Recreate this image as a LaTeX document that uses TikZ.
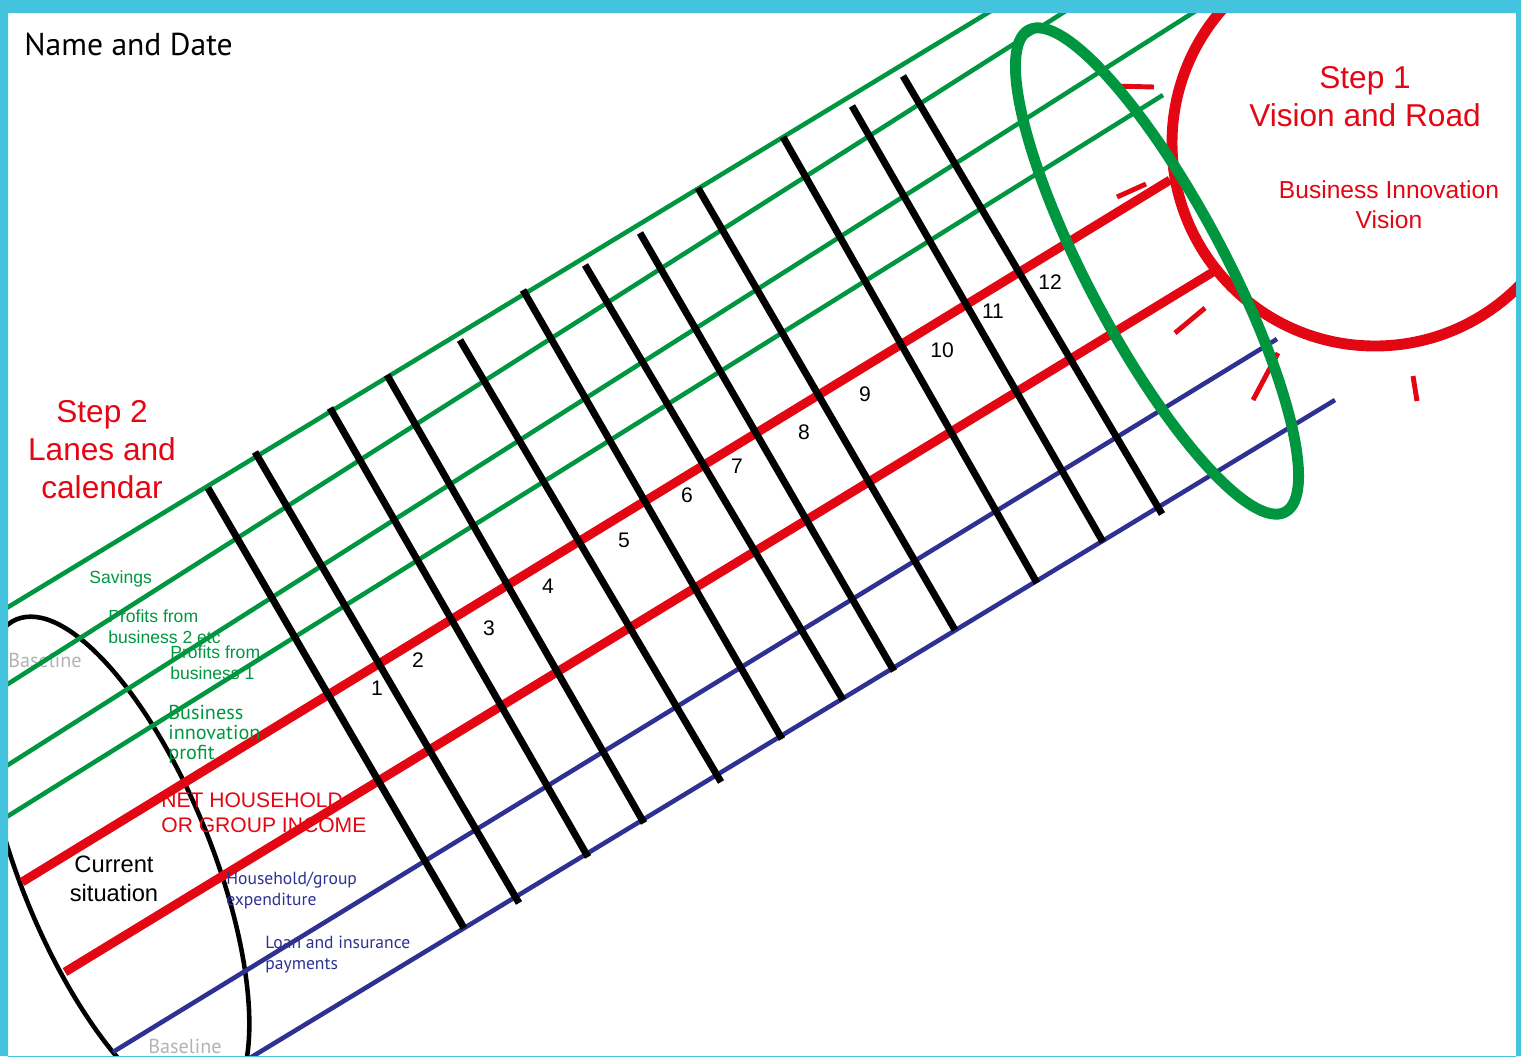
\documentclass[tikz,border=0pt]{standalone}
\usepackage{fontspec}
\setmainfont{Liberation Sans}
\newfontfamily\myriad{PT Sans}
\usepackage{xcolor}
\definecolor{laneGreen}{HTML}{009640}
\definecolor{laneRed}{HTML}{E30613}
\definecolor{laneBlue}{HTML}{2E3192}
\definecolor{frameCyan}{HTML}{44C3DF}
\definecolor{baseGray}{HTML}{B3B3B3}

\begin{document}
\begin{tikzpicture}[x=0.02cm, y=-0.02cm,
    green lane/.style={laneGreen, line width=2.6pt},
    red lane/.style={laneRed, line width=5.1pt},
    blue lane/.style={laneBlue, line width=2.6pt},
    month/.style={black, line width=4pt},
    ray/.style={laneRed, line width=2.8pt},
    lanelabel/.style={inner sep=0pt, anchor=base west, align=left, font=\fontsize{10}{11.8}\selectfont},
    num/.style={inner sep=0pt, font=\fontsize{12}{13}\selectfont},
    steptext/.style={inner sep=0pt, anchor=base, align=center, text=laneRed, font=\fontsize{18}{21.5}\selectfont}
  ]
  \useasboundingbox (0,0) rectangle (1521,1056);
  \clip (0,0) rectangle (1521,1056);

  \node[lanelabel, text=baseGray, font=\myriad\fontsize{11.5}{12}\selectfont] (base1) at (8,667) {Baseline};
  \node[lanelabel, text=baseGray, font=\myriad\fontsize{11.5}{12}\selectfont] (base2) at (148,1053) {Baseline};

  % current situation
  \draw[line width=2.6pt, rotate around={-68:(116,865)}] (116,865) ellipse (265 and 96);

  % lanes
  \draw[green lane] (0,612) -- (1009,0);
  \draw[green lane] (0,689) -- (1083,0);
  \draw[green lane] (0,770) -- (1213,0);
  \draw[green lane] (0,821) -- (1163,95);
  \draw[red lane] (22,882) -- (1170,180);
  \draw[red lane] (65,972) -- (1213,272);
  \draw[blue lane] (113,1052) -- (1277,339);
  \draw[blue lane] (240,1064) -- (1335,400);

  % calendar
  \foreach \xa/\ya/\xb/\yb in {208/488/464/928, 255/452/519/903, 330/408/588/857,
      387/375/644/823, 460/340/721/782, 523/290/782/739, 585/265/843/700,
      640/233/894/671, 698/188/955/630, 783/137/1037/583, 852/106/1103/542,
      903/76/1162/514}
    \draw[month] (\xa,\ya) -- (\xb,\yb);

  \foreach \i/\x/\y in {1/377/688, 2/418/660, 3/489/628, 4/548/586, 5/624/540,
      6/687/495, 7/737/466, 8/804/432, 9/865/394, 10/942/350, 11/993/311, 12/1050/282}
    \node[num] (n\i) at (\x,\y) {\i};

  % vision
  \draw[laneRed, line width=6.2pt] (1375,143) circle (203);
  \foreach \xa/\ya/\xb/\yb in {1112/86/1154/87, 1117/197/1146/184, 1175/333/1205/308,
      1253/400/1278/353, 1413/376/1417/401}
    \draw[ray] (\xa,\ya) -- (\xb,\yb);
  \draw[laneGreen, line width=6.2pt, rotate around={-62:(1157,271)}] (1157,271) ellipse (273 and 68);

  % texts (base = last line)
  \node[inner sep=0pt, anchor=base west, font=\myriad\fontsize{18}{21}\selectfont] (title) at (24,55) {Name and Date};
  \node[steptext] (step1) at (1365,126) {Step 1\\Vision and Road};
  \node[steptext, font=\fontsize{14}{17}\selectfont] (vision) at (1389,228) {Business Innovation\\Vision};
  \node[steptext] (step2) at (102,498) {Step 2\\Lanes and\\calendar};

  \node[lanelabel, text=laneGreen] (savings) at (89,583) {Savings};
  \node[lanelabel, text=laneGreen] (profit2) at (108,643) {Profits from\\business 2 etc};
  \node[lanelabel, text=laneGreen] (profit1) at (170,679) {Profits from\\business 1};
  \node[lanelabel, text=laneGreen, font=\myriad\fontsize{11.5}{11.3}\selectfont] (innov) at (168,759) {Business\\innovation\\profit};
  \node[lanelabel, text=laneRed, font=\fontsize{12}{14.2}\selectfont] (income) at (161,832) {NET HOUSEHOLD\\OR GROUP INCOME};
  \node[inner sep=0pt, anchor=base, align=center, font=\fontsize{13.5}{16}\selectfont] (current) at (114,901) {Current\\situation};
  \node[lanelabel, text=laneBlue, font=\myriad\fontsize{10}{11.5}\selectfont] (spend) at (226,905) {Household/group\\expenditure};
  \node[lanelabel, text=laneBlue, font=\myriad\fontsize{10}{11.5}\selectfont] (loan) at (265,969) {Loan and insurance\\payments};

  % frame
  \fill[frameCyan, even odd rule] (0,0) rectangle (1521,1056) (8,13) rectangle (1516,1070);
\end{tikzpicture}
\end{document}
